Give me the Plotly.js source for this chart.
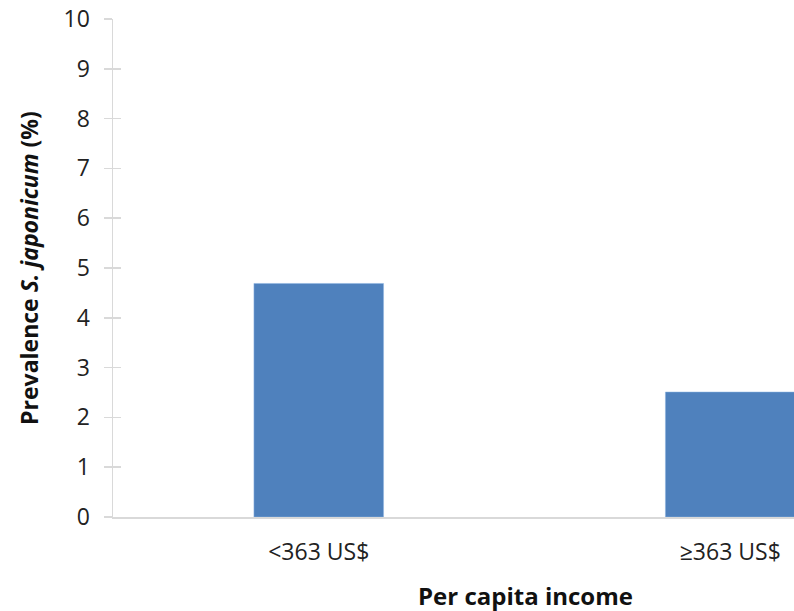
<!DOCTYPE html>
<html>
<head>
<meta charset="utf-8">
<script src="https://cdn.plot.ly/plotly-3.0.1.min.js"></script>
<style>html,body{margin:0;padding:0;background:#fff;}#chart{width:794px;height:611px;}</style>
</head>
<body>
<div id="chart"></div>
<script>
const categories = ['<363 US$', '≥363 US$'];
const prevalence = [4.69, 2.51];
const yTicks = [0,1,2,3,4,5,6,7,8,9,10];

const font = 'Open Sans, Liberation Sans, sans-serif';
const data = [{
  type: 'bar',
  x: [0, 1],
  y: prevalence,
  width: 0.315,
  marker: {color: '#4f81bd', line: {color: '#8eb4e3', width: 0.5}},
  hoverinfo: 'none'
}, {
  type: 'scatter', x: [0], y: [0], yaxis: 'y2', mode: 'none', showlegend: false, hoverinfo: 'none'
}];
const layout = {
  width: 794, height: 611,
  margin: {l: 113, r: 0, t: 19, b: 94},
  paper_bgcolor: '#fff', plot_bgcolor: '#fff',
  showlegend: false,
  font: {family: font, color: '#222', size: 23},
  xaxis: {
    range: [-0.5, 1.155],
    tickmode: 'array', tickvals: [0, 1], ticktext: categories,
    showline: true, linecolor: '#d9d9d9', linewidth: 1.5,
    ticks: '', showgrid: false, zeroline: false,
    tickfont: {size: 23, family: font, color: '#222'},
    ticklabelstandoff: 14
  },
  yaxis: {
    range: [0, 10], tickmode: 'array', tickvals: yTicks,
    showline: true, linecolor: '#d9d9d9', linewidth: 1.5,
    ticks: 'outside', ticklen: 8, tickcolor: '#d9d9d9', tickwidth: 1.5,
    showgrid: false, zeroline: false,
    tickfont: {size: 23, family: font, color: '#222'},
    ticklabelstandoff: 9,
    title: {text: 'Prevalence <i>S. japonicum</i> (%)', font: {size: 23, family: font, color: '#111', weight: 'bold'}, standoff: 18}
  },
  yaxis2: {
    overlaying: 'y', side: 'left', range: [0, 10], tickmode: 'array', tickvals: yTicks,
    ticks: 'inside', ticklen: 8, tickcolor: '#d9d9d9', tickwidth: 1.5,
    showticklabels: false, showgrid: false, zeroline: false, showline: false
  },
  annotations: [{
    text: '<b>Per capita income</b>', xref: 'paper', yref: 'paper',
    x: 0.606, y: -0.158, xanchor: 'center', yanchor: 'middle', showarrow: false,
    font: {size: 24, family: font, color: '#111'}
  }]
};
Plotly.newPlot('chart', data, layout, {displayModeBar: false, staticPlot: true});
</script>
</body>
</html>
